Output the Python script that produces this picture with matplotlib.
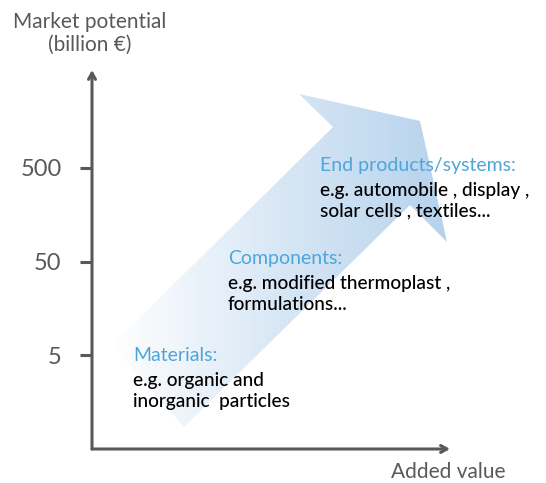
import numpy as np
import matplotlib.pyplot as plt
from matplotlib.patches import Polygon
from matplotlib.colors import LinearSegmentedColormap

plt.rcParams['font.family'] = ['Lato', 'DejaVu Sans']

# data
tick_values = [5, 50, 500]
tick_labels = ['5', '50', '500']
y_title = 'Market potential\n(billion \u20ac)'
x_title = 'Added value'
stages = ['Materials:', 'Components:', 'End products/systems:']
examples = ['e.g. organic and\ninorganic  particles',
            'e.g. modified thermoplast ,\nformulations...',
            'e.g. automobile , display ,\nsolar cells , textiles...']
# big arrow outline (figure pixels)
arrow_x = [184, 112, 333, 299, 420, 447, 410]
arrow_y = [427, 345, 127, 94, 121, 242, 205]
stage_x = [133, 228, 320]
stage_y = [347, 250, 157]

W, H = 546, 483
axis_col = '#58595b'
blue_txt = '#4ea5da'

fig = plt.figure(figsize=(W / 100, H / 100), dpi=100)

# overlay in pixel coordinates for the arrow and texts
ov = fig.add_axes([0, 0, 1, 1], zorder=0)
ov.set_xlim(0, W)
ov.set_ylim(H, 0)
ov.axis('off')

poly = Polygon(np.column_stack([arrow_x, arrow_y]), closed=True,
               facecolor='none', edgecolor='none')
ov.add_patch(poly)
cmap = LinearSegmentedColormap.from_list('g', ['#ffffff', '#d8e7f5', '#b6d2ed'])
grad = np.linspace(0, 1, 256).reshape(1, -1)
im = ov.imshow(grad, cmap=cmap, aspect='auto',
               extent=[110, 450, 430, 90], zorder=1)
im.set_clip_path(poly)
ov.set_xlim(0, W)
ov.set_ylim(H, 0)

for sx, sy, st, ex in zip(stage_x, stage_y, stages, examples):
    ov.text(sx, sy, st, color=blue_txt, fontsize=14, va='top', ha='left', zorder=3)
    ov.text(sx, sy + 25, ex, color='black', fontsize=13.7, va='top', ha='left',
            fontweight='medium', linespacing=1.25, zorder=3)

ov.text(90, 12, y_title, color=axis_col, fontsize=15, ha='center', va='top',
        linespacing=1.2)
ov.text(448, 462, x_title, color=axis_col, fontsize=15, ha='center', va='top')

# main axes with log scale
x0, x1, yb, yt = 92, 450, 449, 70
ax = fig.add_axes([x0 / W, (H - yb) / H, (x1 - x0) / W, (yb - yt) / H], zorder=1)
ax.patch.set_alpha(0)
ax.set_yscale('log')
dec = 93.5  # pixels per decade
lo = 10 ** (np.log10(5) - (yb - 355) / dec)
hi = 10 ** (np.log10(5) + (355 - yt) / dec)
ax.set_ylim(lo, hi)
ax.set_xlim(0, 1)
ax.set_yticks(tick_values)
ax.set_yticklabels(tick_labels)
ax.yaxis.set_minor_locator(plt.NullLocator())
ax.set_xticks([])
for s in ax.spines.values():
    s.set_visible(False)
ax.tick_params(axis='y', length=9, width=2.2, color=axis_col, labelcolor=axis_col,
               labelsize=17, pad=13)

ax.annotate('', xy=(0, 1), xytext=(0, 0), xycoords='axes fraction',
            arrowprops=dict(arrowstyle='->,head_length=0.45,head_width=0.25',
                            color=axis_col, lw=2.2, shrinkA=0, shrinkB=0))
ax.annotate('', xy=(1, 0), xytext=(0, 0), xycoords='axes fraction',
            arrowprops=dict(arrowstyle='->,head_length=0.45,head_width=0.25',
                            color=axis_col, lw=2.2, shrinkA=0, shrinkB=0))

fig.savefig('out.png', dpi=100)
